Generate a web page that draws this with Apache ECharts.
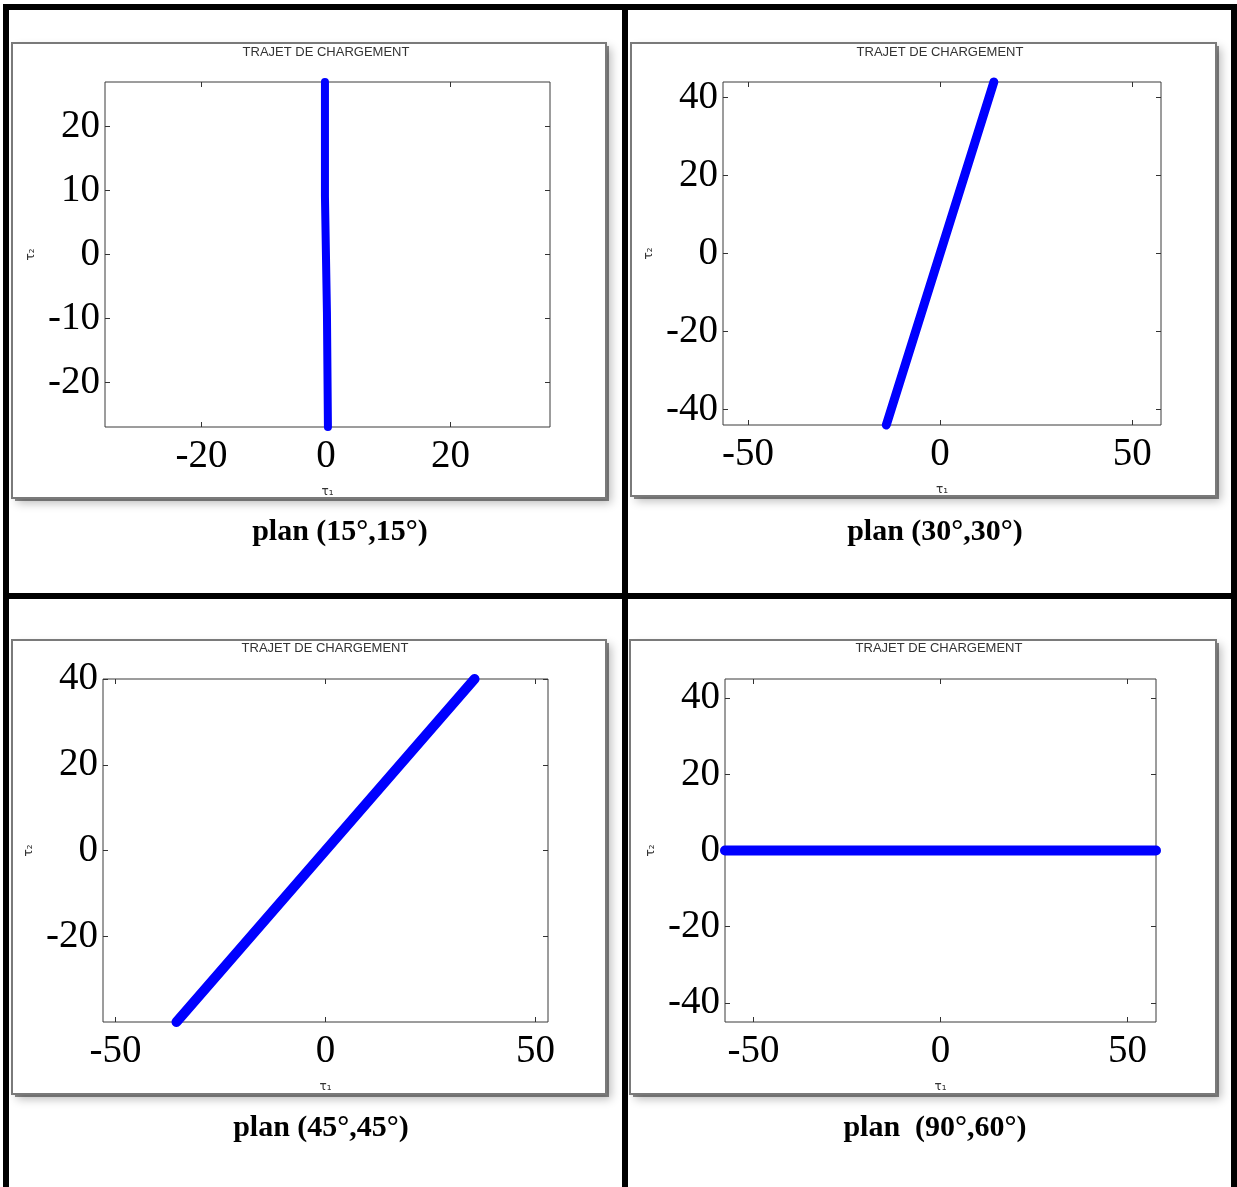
<!DOCTYPE html>
<html>
<head>
<meta charset="utf-8">
<title>Trajets de chargement</title>
<script src="https://cdn.jsdelivr.net/npm/echarts@6/dist/echarts.min.js"></script>
<style>
  html, body { margin: 0; padding: 0; background: #fff; }
  #chart { width: 1237px; height: 1187px; }
</style>
</head>
<body>
<div id="chart"></div>
<script>
// Loading paths in the (tau1, tau2) plane for four cutting planes
const captions = ['plan (15°,15°)', 'plan (30°,30°)', 'plan (45°,45°)', 'plan  (90°,60°)'];
const plotTitle = 'TRAJET DE CHARGEMENT';
const xName = 'τ₁';
const yName = 'τ₂';

// path points [tau1, tau2]
const path15 = [[-0.16, 27], [-0.16, 9.1], [0.16, 9.1], [0.16, -9.1], [0.32, -9.1], [0.32, -27]];
const path30 = [[-14, -44], [14, 44]];
const path45 = [[-35.5, -40], [35.5, 40]];
const path90 = [[-57.6, 0], [57.6, 0]];

// axis extents and tick values
const xRange15 = [-35.5, 36];   const yRange15 = [-27, 27];
const xRange30 = [-56.5, 57.5]; const yRange30 = [-44, 44];
const xRange45 = [-53, 53];     const yRange45 = [-40, 40];
const xRange90 = [-57.6, 57.6]; const yRange90 = [-45, 45];

const xTicks15 = [-20, 0, 20];  const yTicks15 = [-20, -10, 0, 10, 20];
const xTicks30 = [-50, 0, 50];  const yTicks30 = [-40, -20, 0, 20, 40];
const xTicks45 = [-50, 0, 50];  const yTicks45 = [-20, 0, 20, 40];
const xTicks90 = [-50, 0, 50];  const yTicks90 = [-40, -20, 0, 20, 40];

const panels = [
  { path: path15, xr: xRange15, yr: yRange15, xt: xTicks15, yt: yTicks15, lw: 8,
    grid: { left: 105, top: 82, width: 445, height: 345 },
    frame: { x: 12, y: 43, w: 594, h: 455 }, titleX: 326, titleY: 52,
    capX: 340, capY: 532 },
  { path: path30, xr: xRange30, yr: yRange30, xt: xTicks30, yt: yTicks30, lw: 9,
    grid: { left: 723, top: 82, width: 438, height: 343 },
    frame: { x: 631, y: 43, w: 585, h: 453 }, titleX: 940, titleY: 52,
    capX: 935, capY: 532 },
  { path: path45, xr: xRange45, yr: yRange45, xt: xTicks45, yt: yTicks45, lw: 10,
    grid: { left: 103, top: 679, width: 445, height: 343 },
    frame: { x: 12, y: 640, w: 594, h: 454 }, titleX: 325, titleY: 648,
    capX: 321, capY: 1128 },
  { path: path90, xr: xRange90, yr: yRange90, xt: xTicks90, yt: yTicks90, lw: 10,
    grid: { left: 725, top: 679, width: 431, height: 343 },
    frame: { x: 630, y: 640, w: 586, h: 454 }, titleX: 939, titleY: 648,
    capX: 935, capY: 1128 }
];

const tickFont = { fontFamily: 'Liberation Serif', fontSize: 39, color: '#000' };
const nameFont = { fontFamily: 'DejaVu Sans', fontSize: 12, color: '#333' };

const grids = [], xAxes = [], yAxes = [], series = [], graphics = [];

// table rules
const rules = [
  { x: 3, y: 4, w: 1234, h: 6 },
  { x: 3, y: 4, w: 6, h: 1183 },
  { x: 622, y: 4, w: 6, h: 1183 },
  { x: 1231, y: 4, w: 6, h: 1183 },
  { x: 3, y: 593, w: 1234, h: 6 }
];
rules.forEach(r => graphics.push({
  type: 'rect', silent: true, z: 10,
  shape: { x: r.x, y: r.y, width: r.w, height: r.h },
  style: { fill: '#000' }
}));

panels.forEach((p, i) => {
  // soft drop shadow, then the figure window on top of it
  graphics.push({
    type: 'rect', silent: true, z: -11,
    shape: { x: p.frame.x + 3, y: p.frame.y + 3, width: p.frame.w, height: p.frame.h },
    style: { fill: 'rgba(0,0,0,0.45)', shadowBlur: 9, shadowOffsetX: 2, shadowOffsetY: 2,
             shadowColor: 'rgba(0,0,0,0.6)' }
  });
  graphics.push({
    type: 'rect', silent: true, z: -10,
    shape: { x: p.frame.x, y: p.frame.y, width: p.frame.w, height: p.frame.h },
    style: { fill: '#fff', stroke: '#7a7a7a', lineWidth: 2 }
  });
  graphics.push({
    type: 'text', silent: true,
    x: p.titleX, y: p.titleY,
    style: {
      text: plotTitle, fill: '#333', font: '13px "Liberation Sans"',
      textAlign: 'center', textVerticalAlign: 'middle'
    }
  });
  graphics.push({
    type: 'text', silent: true,
    x: p.capX, y: p.capY,
    style: {
      text: captions[i], fill: '#000', font: 'bold 30px "Liberation Serif"',
      textAlign: 'center', textVerticalAlign: 'middle'
    }
  });

  grids.push(Object.assign({ show: true, borderColor: '#3a3a3a', borderWidth: 1,
    backgroundColor: '#fff', containLabel: false }, p.grid));

  const tick = { show: true, inside: true, length: 5, lineStyle: { color: '#333', width: 1 } };
  const line = { show: false, onZero: false };
  // bottom / left axes carry labels
  xAxes.push({
    type: 'value', gridIndex: i, position: 'bottom', min: p.xr[0], max: p.xr[1],
    axisLine: line, splitLine: { show: false },
    axisTick: Object.assign({ customValues: p.xt }, tick),
    axisLabel: Object.assign({ customValues: p.xt, margin: 10 }, tickFont),
    name: xName, nameLocation: 'middle', nameGap: 59, nameTextStyle: nameFont
  });
  yAxes.push({
    type: 'value', gridIndex: i, position: 'left', min: p.yr[0], max: p.yr[1],
    axisLine: line, splitLine: { show: false },
    axisTick: Object.assign({ customValues: p.yt }, tick),
    axisLabel: Object.assign({ customValues: p.yt, margin: 5 }, tickFont),
    name: yName, nameLocation: 'middle', nameGap: 68, nameTextStyle: nameFont
  });
  // mirrored ticks on top / right
  xAxes.push({
    type: 'value', gridIndex: i, position: 'top', min: p.xr[0], max: p.xr[1],
    axisLine: line, splitLine: { show: false },
    axisTick: Object.assign({ customValues: p.xt }, tick),
    axisLabel: { show: false }
  });
  yAxes.push({
    type: 'value', gridIndex: i, position: 'right', min: p.yr[0], max: p.yr[1],
    axisLine: line, splitLine: { show: false },
    axisTick: Object.assign({ customValues: p.yt }, tick),
    axisLabel: { show: false }
  });

  series.push({
    type: 'line', xAxisIndex: i * 2, yAxisIndex: i * 2,
    data: p.path, symbol: 'none', clip: false, z: 5,
    lineStyle: { color: '#0000ff', width: p.lw, cap: 'round', join: 'round' }
  });
});

const chart = echarts.init(document.getElementById('chart'), null, { renderer: 'canvas' });
chart.setOption({
  animation: false,
  backgroundColor: '#fff',
  grid: grids,
  xAxis: xAxes,
  yAxis: yAxes,
  series: series,
  graphic: graphics
});
</script>
</body>
</html>
